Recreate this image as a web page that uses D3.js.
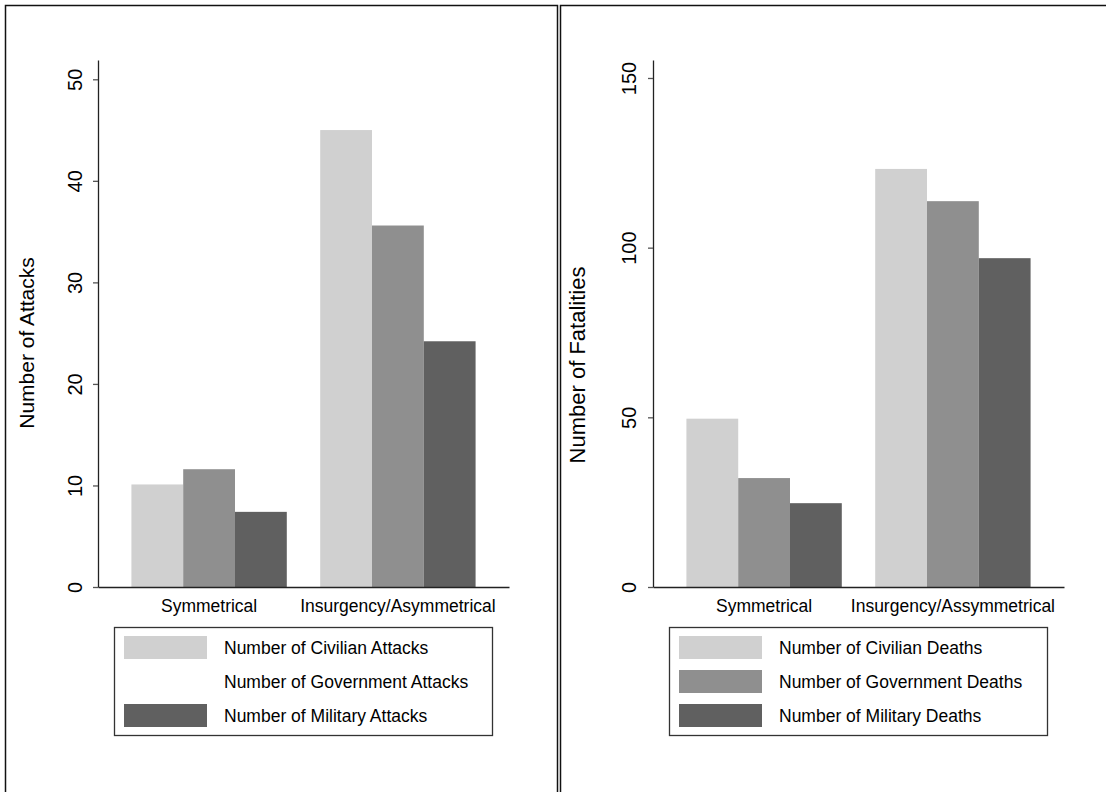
<!DOCTYPE html>
<meta charset="utf-8">
<style>
  body { margin: 0; background: #fff; }
  svg { display: block; font-family: "Liberation Sans", Arial, Helvetica, sans-serif; }
</style>
<svg id="chart" width="1106" height="792"></svg>

<script src="https://d3js.org/d3.v7.min.js"></script>
<script>

// values
var attackCategories = ["Symmetrical", "Insurgency/Asymmetrical"];
var attackSeries = ["Number of Civilian Attacks", "Number of Government Attacks", "Number of Military Attacks"];
var civilianAttacks = [10.1, 45.0];
var governmentAttacks = [11.6, 35.6];
var militaryAttacks = [7.4, 24.2];
var attackTicks = [0, 10, 20, 30, 40, 50];

var deathCategories = ["Symmetrical", "Insurgency/Assymmetrical"];
var deathSeries = ["Number of Civilian Deaths", "Number of Government Deaths", "Number of Military Deaths"];
var civilianDeaths = [49.6, 123.2];
var governmentDeaths = [32.1, 113.7];
var militaryDeaths = [24.7, 96.9];
var deathTicks = [0, 50, 100, 150];

var barColors = ["#d0d0d0", "#8f8f8f", "#606060"];

var svg = d3.select("#chart");

function drawPanel(opt) {
  var g = svg.append("g").attr("transform", "translate(" + opt.left + ",0)");

  // panel frame (runs off the bottom of the picture)
  g.append("rect")
    .attr("x", 0.5).attr("y", 5.5)
    .attr("width", opt.frameWidth).attr("height", 820)
    .attr("fill", "none")
    .attr("stroke", "#111")
    .attr("stroke-width", 1.5);

  var plotLeft = 93, plotRight = 504, plotTop = 60, plotBottom = 587;

  var x0 = d3.scaleBand()
    .domain(opt.categories)
    .range([plotLeft, plotRight])
    .paddingInner(0.177)
    .paddingOuter(0.177);

  var x1 = d3.scaleBand()
    .domain(d3.range(opt.series.length))
    .range([0, x0.bandwidth()]);

  var y = d3.scaleLinear()
    .domain([0, opt.yMax])
    .range([plotBottom, plotTop]);

  var rows = opt.categories.map(function(c, i) {
    return { cat: c, vals: opt.values.map(function(s) { return s[i]; }) };
  });

  g.selectAll("g.group")
    .data(rows)
    .enter().append("g")
    .attr("class", "group")
    .attr("transform", function(d) { return "translate(" + x0(d.cat) + ",0)"; })
    .selectAll("rect")
    .data(function(d) { return d.vals; })
    .enter().append("rect")
    .attr("x", function(d, i) { return x1(i); })
    .attr("width", x1.bandwidth())
    .attr("y", function(d) { return y(d); })
    .attr("height", function(d) { return plotBottom - y(d); })
    .attr("fill", function(d, i) { return barColors[i]; });

  // y axis with rotated tick labels
  var yAxis = g.append("g")
    .attr("transform", "translate(" + plotLeft + ",0)")
    .call(d3.axisLeft(y).tickValues(opt.ticks).tickSize(5).tickSizeOuter(0));
  yAxis.select(".domain").attr("stroke", "#222").attr("stroke-width", 1.3);
  yAxis.selectAll(".tick line").attr("stroke", "#555").attr("stroke-width", 1.3);
  yAxis.selectAll(".tick text")
    .attr("x", 0).attr("y", -opt.tickOffset).attr("dy", null)
    .attr("transform", "rotate(-90)")
    .attr("text-anchor", "middle")
    .attr("fill", "#000")
    .style("font-size", "20px");

  // x axis: plain line plus category labels
  var xAxis = g.append("g")
    .attr("transform", "translate(0," + plotBottom + ")")
    .call(d3.axisBottom(x0).tickSize(0).tickSizeOuter(0).tickPadding(13));
  xAxis.select(".domain").attr("stroke", "#222").attr("stroke-width", 1.3);
  xAxis.selectAll(".tick text").attr("fill", "#000").style("font-size", "17.5px");

  // y title
  g.append("text")
    .attr("transform", "translate(" + opt.titleX + "," + opt.titleY + ") rotate(-90)")
    .attr("text-anchor", "middle")
    .style("font-size", opt.titleSize + "px")
    .text(opt.yTitle);

  // legend
  var lg = g.append("g").attr("transform", "translate(" + (plotLeft + 16) + ",627)");
  lg.append("rect")
    .attr("x", 0.5).attr("y", 0.5)
    .attr("width", 378).attr("height", 108)
    .attr("fill", "#fff")
    .attr("stroke", "#333")
    .attr("stroke-width", 1.3);

  var item = lg.selectAll("g.item")
    .data(opt.series)
    .enter().append("g")
    .attr("class", "item")
    .attr("transform", function(d, i) { return "translate(0," + (9 + i * 34) + ")"; });

  item.append("rect")
    .attr("x", 10).attr("width", 83).attr("height", 23)
    .attr("fill", function(d, i) { return opt.swatch[i] ? barColors[i] : "#fff"; });

  item.append("text")
    .attr("x", 110).attr("y", 18)
    .style("font-size", "17.5px")
    .text(function(d) { return d; });
}

drawPanel({
  left: 5, frameWidth: 552,
  categories: attackCategories, series: attackSeries,
  values: [civilianAttacks, governmentAttacks, militaryAttacks],
  ticks: attackTicks, yMax: 51.9, tickOffset: 16,
  yTitle: "Number of Attacks", titleX: 29, titleY: 343, titleSize: 21,
  swatch: [true, false, true]
});

drawPanel({
  left: 560, frameWidth: 600,
  categories: deathCategories, series: deathSeries,
  values: [civilianDeaths, governmentDeaths, militaryDeaths],
  ticks: deathTicks, yMax: 155.3, tickOffset: 17,
  yTitle: "Number of Fatalities", titleX: 25, titleY: 365, titleSize: 22,
  swatch: [true, true, true]
});

</script>
